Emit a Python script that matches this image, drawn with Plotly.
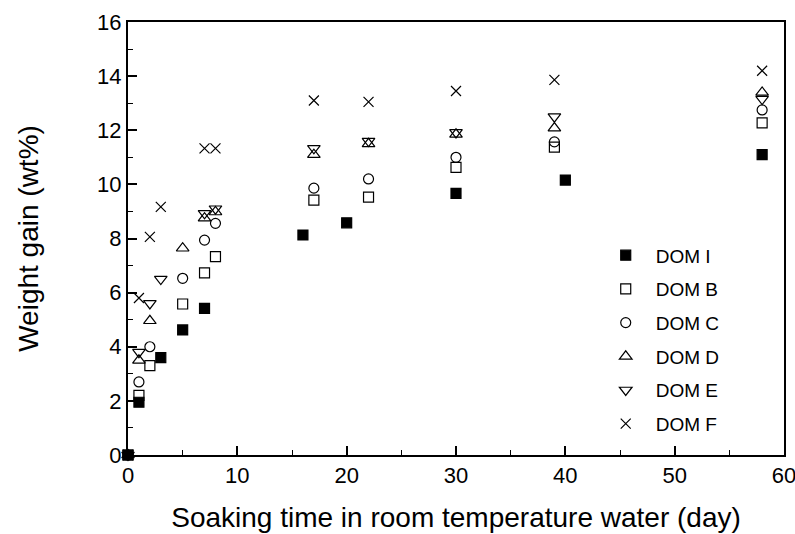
import plotly.graph_objects as go

days_I = [0, 1, 3, 5, 7, 16, 20, 30, 40, 58]
dom_I = [0, 1.95, 3.6, 4.62, 5.42, 8.13, 8.58, 9.67, 10.16, 11.1]

days_B = [0, 1, 2, 5, 7, 8, 17, 22, 30, 39, 58]
dom_B = [0, 2.2, 3.3, 5.58, 6.73, 7.33, 9.42, 9.53, 10.63, 11.38, 12.27]

days_C = [0, 1, 2, 5, 7, 8, 17, 22, 30, 39, 58]
dom_C = [0, 2.7, 4.0, 6.53, 7.94, 8.56, 9.86, 10.2, 11.0, 11.57, 12.75]

days_D = [0, 1, 2, 5, 7, 8, 17, 22, 30, 39, 58]
dom_D = [0, 3.5, 4.96, 7.64, 8.75, 8.98, 11.1, 11.5, 11.85, 12.08, 13.4]

days_E = [0, 1, 2, 3, 7, 8, 17, 22, 30, 39, 58]
dom_E = [0, 3.8, 5.6, 6.5, 8.93, 9.1, 11.33, 11.6, 11.92, 12.5, 13.15]

days_F = [0, 1, 2, 3, 7, 8, 17, 22, 30, 39, 58]
dom_F = [0, 5.8, 8.06, 9.17, 11.33, 11.33, 13.1, 13.05, 13.45, 13.86, 14.2]

series = [
    ("DOM I", days_I, dom_I, "square", 10),
    ("DOM B", days_B, dom_B, "square-open", 10),
    ("DOM C", days_C, dom_C, "circle-open", 10),
    ("DOM D", days_D, dom_D, "triangle-up-open", 11),
    ("DOM E", days_E, dom_E, "triangle-down-open", 11),
    ("DOM F", days_F, dom_F, "x-thin-open", 10),
]

fig = go.Figure()
for name, xs, ys, sym, sz in series:
    fig.add_trace(go.Scatter(
        x=xs, y=ys, mode="markers", name=name, legendgroup=name,
        marker=dict(symbol=sym, size=sz, color="black",
                    line=dict(color="black", width=1.2)),
        cliponaxis=False,
    ))

font_family = "Liberation Sans, Arial, sans-serif"
fig.update_layout(
    width=795, height=534,
    margin=dict(l=128, r=11, t=22, b=79),
    paper_bgcolor="white", plot_bgcolor="white",
    font=dict(family=font_family, color="black"),
    showlegend=True,
    legend=dict(x=0.713, y=0.505, xanchor="left", yanchor="top",
                font=dict(size=19, family=font_family),
                bgcolor="rgba(0,0,0,0)", tracegroupgap=6,
                itemwidth=50),
    xaxis=dict(
        range=[0, 60], dtick=10, tick0=0, automargin=False,
        ticklabeloverflow="allow",
        showgrid=False, zeroline=False,
        showline=True, linecolor="black", linewidth=2, mirror=True,
        ticks="inside", ticklen=9, tickwidth=1.5, tickcolor="black",
        tickfont=dict(size=22),
        minor=dict(dtick=5, ticks="inside", ticklen=5, tickwidth=1.2, tickcolor="black"),
        title=dict(text="Soaking time in room temperature water (day)",
                   font=dict(size=28), standoff=20),
    ),
    yaxis=dict(
        range=[0, 16], dtick=2, tick0=0, automargin=False,
        ticklabeloverflow="allow",
        showgrid=False, zeroline=False,
        showline=True, linecolor="black", linewidth=2, mirror=True,
        ticks="inside", ticklen=9, tickwidth=1.5, tickcolor="black",
        tickfont=dict(size=22),
        minor=dict(dtick=1, ticks="inside", ticklen=5, tickwidth=1.2, tickcolor="black"),
        title=dict(text="Weight gain (wt%)", font=dict(size=28), standoff=50),
    ),
)

fig.write_html("out.html")
